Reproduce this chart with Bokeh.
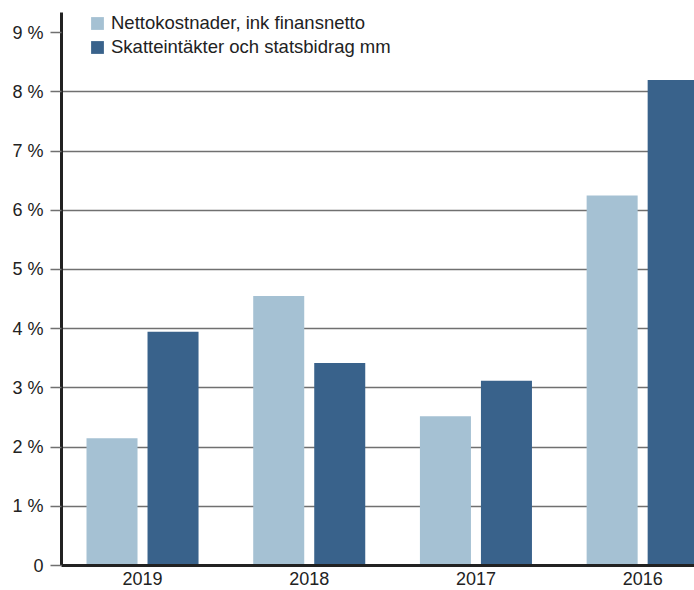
from bokeh.plotting import figure
from bokeh.models import Range1d, FixedTicker, ColumnDataSource
from bokeh.transform import dodge
from bokeh.embed import file_html
from bokeh.resources import INLINE

years = ["2019", "2018", "2017", "2016"]
netto = [2.15, 4.55, 2.52, 6.25]
skatt = [3.95, 3.42, 3.12, 8.20]
series_names = ["Nettokostnader, ink finansnetto", "Skatteintäkter och statsbidrag mm"]
y_ticks = [0, 1, 2, 3, 4, 5, 6, 7, 8, 9]
y_labels = ["0", "1 %", "2 %", "3 %", "4 %", "5 %", "6 %", "7 %", "8 %", "9 %"]
grid_ticks = [1, 2, 3, 4, 5, 6, 7, 8]

LIGHT = "#a5c1d3"
DARK = "#39628b"
FONT = "Liberation Sans"
TXT = "#222222"

x = list(range(len(years)))
src = ColumnDataSource(dict(x=x, netto=netto, skatt=skatt))

p = figure(width=694, height=590, output_backend="svg", toolbar_location=None,
           x_range=Range1d(-0.486, 3.311), y_range=Range1d(0, 9.34),
           min_border_left=61, min_border_top=12, min_border_right=0, min_border_bottom=25)
p.outline_line_color = None
p.background_fill_color = "white"

p.vbar(x=dodge("x", -0.183), top="netto", width=0.306, source=src,
       fill_color=LIGHT, line_color=None, legend_label=series_names[0])
p.vbar(x=dodge("x", 0.183), top="skatt", width=0.306, source=src,
       fill_color=DARK, line_color=None, legend_label=series_names[1])

# grid
p.xgrid.grid_line_color = None
p.ygrid.ticker = FixedTicker(ticks=grid_ticks)
p.ygrid.grid_line_color = "#707070"
p.ygrid.grid_line_width = 1.5

# y axis
ya = p.yaxis[0]
ya.ticker = FixedTicker(ticks=y_ticks)
ya.major_label_overrides = {t: l for t, l in zip(y_ticks, y_labels)}
ya.axis_line_width = 3
ya.axis_line_color = TXT
ya.major_tick_out = 11
ya.major_tick_in = 0
ya.major_tick_line_color = "#707070"
ya.major_tick_line_width = 1.5
ya.minor_tick_line_color = None
ya.major_label_standoff = 7
ya.major_label_text_font = FONT
ya.major_label_text_font_size = "18px"
ya.major_label_text_color = TXT

# x axis
xa = p.xaxis[0]
xa.ticker = FixedTicker(ticks=x)
xa.major_label_overrides = {i: y for i, y in zip(x, years)}
xa.axis_line_width = 3
xa.axis_line_color = TXT
xa.major_tick_out = 0
xa.major_tick_in = 0
xa.minor_tick_line_color = None
xa.major_label_standoff = 6
xa.major_label_text_font = FONT
xa.major_label_text_font_size = "18px"
xa.major_label_text_color = TXT

# legend
lg = p.legend[0]
lg.location = (28, 507)
lg.margin = 0
lg.padding = 0
lg.spacing = 2
lg.glyph_width = 16
lg.glyph_height = 16
lg.label_height = 21
lg.label_standoff = 6
lg.border_line_color = None
lg.background_fill_alpha = 0
lg.label_text_font = FONT
lg.label_text_font_size = "18.5px"
lg.label_text_color = TXT

open("out.html", "w").write(file_html(p, INLINE))
